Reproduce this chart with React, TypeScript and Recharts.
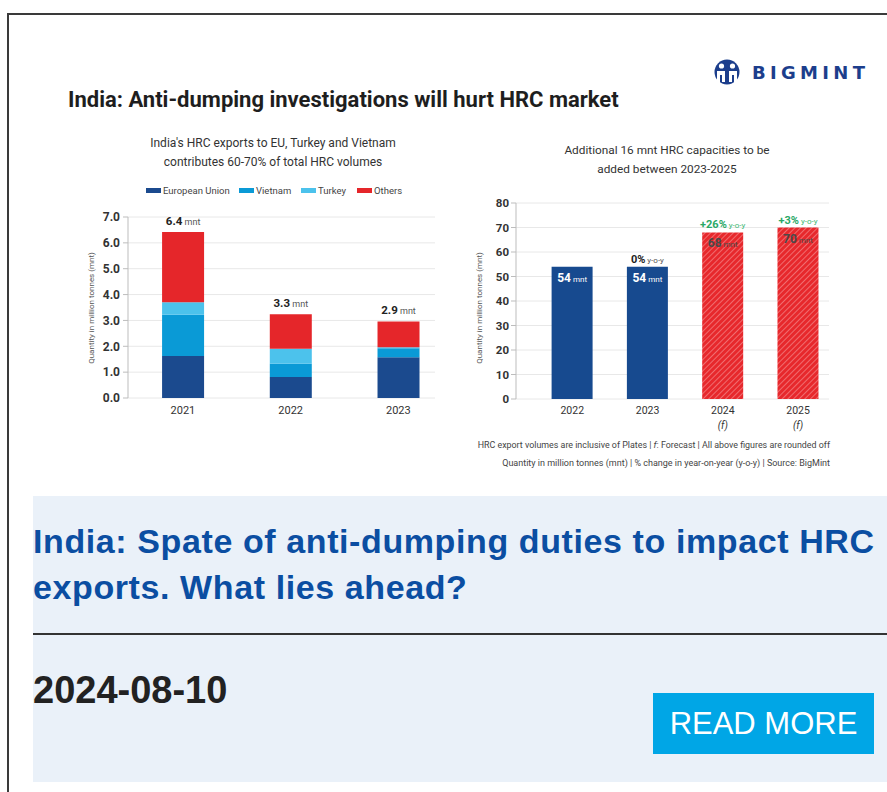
import React from 'react';
import { BarChart, Bar, XAxis, YAxis, CartesianGrid, LabelList, Cell } from 'recharts';

// ---- Left chart data: India's HRC exports (mnt) ----
const exportYears = [2021, 2022, 2023];
const euValues = [1.62, 0.81, 1.58];
const vietnamValues = [1.6, 0.51, 0.34];
const turkeyValues = [0.48, 0.58, 0.04];
const othersValues = [2.72, 1.34, 1.0];
const exportTotals = ['6.4', '3.3', '2.9'];
const exportTicks = [0, 1, 2, 3, 4, 5, 6, 7];

// ---- Right chart data: HRC capacities (mnt) ----
const capacityYears = [2022, 2023, 2024, 2025];
const capacityValues = [54, 54, 68, 70];
const capacityForecast = [false, false, true, true];
const capacityChange = ['', '0%', '+26%', '+3%'];
const capacityTicks = [0, 10, 20, 30, 40, 50, 60, 70, 80];

const exportSeries = [
  { key: 'eu', name: 'European Union', color: '#1b4a8e' },
  { key: 'vn', name: 'Vietnam', color: '#0a9ad6' },
  { key: 'tr', name: 'Turkey', color: '#4cc2ec' },
  { key: 'ot', name: 'Others', color: '#e5262a' },
];

const exportData = exportYears.map((year, i) => ({
  year,
  eu: euValues[i],
  vn: vietnamValues[i],
  tr: turkeyValues[i],
  ot: othersValues[i],
  total: exportTotals[i],
}));

const capacityData = capacityYears.map((year, i) => ({
  year,
  value: capacityValues[i],
  forecast: capacityForecast[i],
  change: capacityChange[i],
}));

const FONT = 'Roboto, "Liberation Sans", sans-serif';
const ARIAL = '"Liberation Sans", Arial, sans-serif';

const TotalLabel = (props: any) => {
  const { x, y, width, value } = props;
  return (
    <text x={x + width / 2} y={y - 7} textAnchor="middle" fontFamily={FONT}>
      <tspan fontWeight={700} fontSize={11.5} fill="#222">{value}</tspan>
      <tspan fontSize={9} fill="#555"> mnt</tspan>
    </text>
  );
};

const InsideLabel = (props: any) => {
  const { x, y, width, value, index } = props;
  const fc = capacityForecast[index];
  return (
    <text x={x + width / 2} y={y + 15} textAnchor="middle" fontFamily={FONT} fill={fc ? '#4a4a4a' : '#ffffff'}>
      <tspan fontWeight={700} fontSize={12}>{value}</tspan>
      <tspan fontSize={8} dx={2}>mnt</tspan>
    </text>
  );
};

const ChangeLabel = (props: any) => {
  const { x, y, width, value } = props;
  if (!value) return null;
  const green = value !== '0%';
  const col = green ? '#2aa866' : '#222';
  return (
    <text x={x + width / 2} y={y - 4} textAnchor="middle" fontFamily={FONT} fill={col}>
      <tspan fontWeight={700} fontSize={11}>{value}</tspan>
      <tspan fontSize={8} dx={2} fill={green ? '#3cb874' : '#555'}>y-o-y</tspan>
    </text>
  );
};

const LeftTick = (props: any) => {
  const { x, y, payload } = props;
  return (
    <text x={x} y={y + 10} textAnchor="middle" fontSize={11} fontFamily={FONT} fill="#333">
      {payload.value}
    </text>
  );
};

const RightTick = (props: any) => {
  const { x, y, payload } = props;
  const idx = capacityYears.indexOf(payload.value);
  return (
    <g>
      <text x={x} y={y + 9} textAnchor="middle" fontSize={10.5} fontFamily={FONT} fill="#333">
        {payload.value}
      </text>
      {capacityForecast[idx] && (
        <text x={x} y={y + 24} textAnchor="middle" fontSize={10} fontFamily={FONT} fill="#333" fontStyle="italic">
          (f)
        </text>
      )}
    </g>
  );
};

export default function App() {
  return (
    <div style={{ position: 'absolute', left: 0, top: 0, width: 887, height: 792, overflow: 'hidden', background: '#fff', fontFamily: FONT }}>
      {/* frame */}
      <div style={{ position: 'absolute', left: 7, top: 13, width: 880, height: 2, background: '#3a3a3a' }} />
      <div style={{ position: 'absolute', left: 7, top: 13, width: 2, height: 779, background: '#3a3a3a' }} />

      {/* Left chart */}
      <div style={{ position: 'absolute', left: 60, top: 200 }}>
        <BarChart width={380} height={230} data={exportData} margin={{ top: 17, right: 5, bottom: 2, left: 20 }}>
          <CartesianGrid vertical={false} stroke="#e8e8e8" />
          <XAxis
            type="number"
            dataKey="year"
            domain={[2020.49, 2023.34]}
            allowDataOverflow
            ticks={exportYears}
            axisLine={false}
            tickLine={false}
            tickSize={6}
            tickMargin={0}
            height={30}
            tick={<LeftTick />}
          />
          <YAxis
            width={48}
            domain={[0, 7]}
            ticks={exportTicks}
            tickFormatter={(v: number) => v.toFixed(1)}
            axisLine={{ stroke: '#bdbdbd' }}
            tickLine={{ stroke: '#bdbdbd' }}
            tickSize={5}
            tickMargin={3}
            tick={{ fontSize: 12, fontWeight: 700, fill: '#333', fontFamily: FONT }}
          />
          {exportSeries.map((s) => (
            <Bar key={s.key} dataKey={s.key} name={s.name} stackId="a" fill={s.color} barSize={42} isAnimationActive={false}>
              {s.key === 'ot' && <LabelList dataKey="total" content={<TotalLabel />} />}
            </Bar>
          ))}
        </BarChart>
      </div>

      {/* Right chart */}
      <div style={{ position: 'absolute', left: 470, top: 190 }}>
        <BarChart width={364} height={247} data={capacityData} margin={{ top: 13, right: 5, bottom: 2, left: 0 }}>
          <defs>
            <pattern id="hatch" patternUnits="userSpaceOnUse" width="4" height="4" patternTransform="rotate(45)">
              <rect width="4" height="4" fill="#e7282c" />
              <line x1="0" y1="0" x2="0" y2="4" stroke="#f58a8c" strokeWidth="1.4" />
            </pattern>
          </defs>
          <CartesianGrid vertical={false} stroke="#e8e8e8" />
          <XAxis
            type="number"
            dataKey="year"
            domain={[2021.253, 2025.41]}
            allowDataOverflow
            ticks={capacityYears}
            axisLine={false}
            tickLine={false}
            tickSize={6}
            tickMargin={0}
            height={36}
            tick={<RightTick />}
          />
          <YAxis
            width={46}
            domain={[0, 80]}
            ticks={capacityTicks}
            axisLine={{ stroke: '#bdbdbd' }}
            tickLine={{ stroke: '#bdbdbd' }}
            tickSize={5}
            tickMargin={2}
            tick={{ fontSize: 11.5, fontWeight: 700, fill: '#333', fontFamily: FONT }}
          />
          <Bar dataKey="value" barSize={41} isAnimationActive={false}>
            {capacityData.map((d, i) => (
              <Cell key={i} fill={d.forecast ? 'url(#hatch)' : '#174a8f'} />
            ))}
            <LabelList dataKey="value" content={<InsideLabel />} />
            <LabelList dataKey="change" content={<ChangeLabel />} />
          </Bar>
        </BarChart>
      </div>

      {/* Overlay texts */}
      <svg width={887} height={480} style={{ position: 'absolute', left: 0, top: 0, pointerEvents: 'none' }}>
        <text x={68} y={107} fontSize={22} fontWeight={700} fill="#1e1e1e" fontFamily={FONT}>
          India: Anti-dumping investigations will hurt HRC market
        </text>

        {/* logo */}
        <g>
          <circle cx={727} cy={72} r={12.5} fill="#1c3e8c" />
          <circle cx={721.5} cy={66} r={2.6} fill="#fff" />
          <circle cx={732.5} cy={66} r={2.6} fill="#fff" />
          <path d="M717 71 h8 v11 h-3 v-7 h-2 v8 h-3z" fill="#fff" />
          <path d="M729 71 h8 v12 h-3 v-8 h-2 v7 h-3z" fill="#fff" />
          <text x={752} y={79} fontSize={18} fontWeight={700} fill="#1c3e8c" fontFamily='"DejaVu Sans", sans-serif' letterSpacing={4.3}>
            BIGMINT
          </text>
        </g>

        {/* left subtitle */}
        <text x={273} y={147} textAnchor="middle" fontSize={12} fill="#333" fontFamily={FONT}>
          India's HRC exports to EU, Turkey and Vietnam
        </text>
        <text x={273} y={166} textAnchor="middle" fontSize={12} fill="#333" fontFamily={FONT}>
          contributes 60-70% of total HRC volumes
        </text>

        {/* legend */}
        {(() => {
          const xs = [146, 239, 301, 357];
          return exportSeries.map((s, i) => (
            <g key={s.key}>
              <rect x={xs[i]} y={188} width={15} height={5} fill={s.color} />
              <text x={xs[i] + 17} y={193.5} fontSize={9.5} fill="#444" fontFamily={FONT}>{s.name}</text>
            </g>
          ));
        })()}

        {/* y axis labels */}
        <text transform="translate(94,308) rotate(-90)" textAnchor="middle" fontSize={8} fill="#555" fontFamily={FONT}>
          Quantity in million tonnes (mnt)
        </text>
        <text transform="translate(482,308) rotate(-90)" textAnchor="middle" fontSize={8} fill="#555" fontFamily={FONT}>
          Quantity in million tonnes (mnt)
        </text>

        {/* right subtitle */}
        <text x={667} y={154} textAnchor="middle" fontSize={11.8} fill="#333" fontFamily={FONT}>
          Additional 16 mnt HRC capacities to be
        </text>
        <text x={667} y={173} textAnchor="middle" fontSize={11.8} fill="#333" fontFamily={FONT}>
          added between 2023-2025
        </text>

        {/* notes */}
        <text x={830} y={448} textAnchor="end" fontSize={8.9} fill="#444" fontFamily={FONT}>
          HRC export volumes are inclusive of Plates | <tspan fontStyle="italic">f</tspan>: Forecast | All above figures are rounded off
        </text>
        <text x={830} y={466} textAnchor="end" fontSize={9} fill="#444" fontFamily={FONT}>
          Quantity in million tonnes (mnt) | % change in year-on-year (y-o-y) | Source: BigMint
        </text>
      </svg>

      {/* bottom card */}
      <div style={{ position: 'absolute', left: 33, top: 496, width: 854, height: 286, background: '#eaf1f9' }} />
      <div style={{ position: 'absolute', left: 33, top: 518, whiteSpace: 'nowrap', fontFamily: ARIAL, fontWeight: 700, fontSize: 34, letterSpacing: 0.6, lineHeight: '46px', color: '#0b4ea2' }}>
        India: Spate of anti-dumping duties to impact HRC
        <br />
        exports. What lies ahead?
      </div>
      <div style={{ position: 'absolute', left: 33, top: 633, width: 854, height: 2, background: '#333' }} />
      <div style={{ position: 'absolute', left: 33, top: 666, whiteSpace: 'nowrap', fontFamily: ARIAL, fontWeight: 700, fontSize: 38, lineHeight: '48px', color: '#222' }}>
        2024-08-10
      </div>
      <div style={{ position: 'absolute', left: 653, top: 693, width: 221, height: 61, background: '#00a6e6', color: '#fff', fontFamily: ARIAL, fontSize: 31, lineHeight: '61px', textAlign: 'center' }}>
        READ MORE
      </div>
    </div>
  );
}
